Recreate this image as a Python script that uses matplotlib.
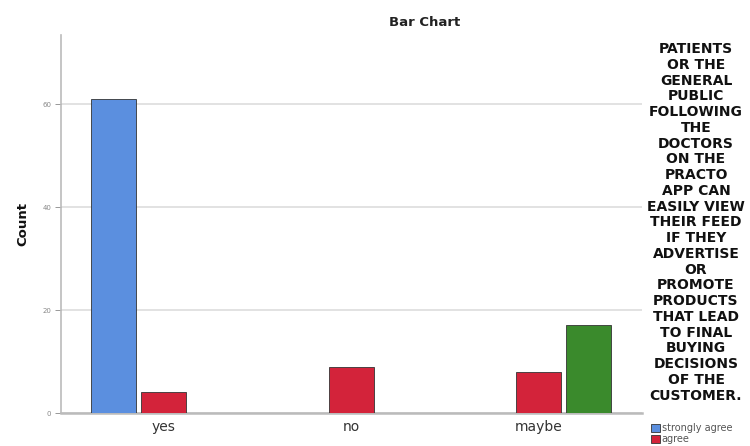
import matplotlib
matplotlib.use('Agg')
import matplotlib.pyplot as plt
import numpy as np

plt.rcParams['font.family'] = ['DejaVu Sans']

categories = ['yes', 'no', 'maybe']
responses = ['strongly agree', 'agree', 'neutral']
counts = {
    'strongly agree': [61, 0, 0],
    'agree': [4, 9, 8],
    'neutral': [0, 0, 17],
}
colours = ['#5b8fdf', '#d3233a', '#3a8a2c']
legend_title = ('PATIENTS\nOR THE\nGENERAL\nPUBLIC\nFOLLOWING\nTHE\nDOCTORS\nON THE\n'
                'PRACTO\nAPP CAN\nEASILY VIEW\nTHEIR FEED\nIF THEY\nADVERTISE\nOR\n'
                'PROMOTE\nPRODUCTS\nTHAT LEAD\nTO FINAL\nBUYING\nDECISIONS\nOF THE\nCUSTOMER.')

fig = plt.figure(figsize=(7.5, 4.46), dpi=100)
ax = fig.add_axes([61/750, 1-413/446, (642-61)/750, (413-35)/446])

# clustered bars, one slot per response within each category
x = np.arange(len(categories))
slot = 0.266
width = 0.24
handles = []
for i, (resp, col) in enumerate(zip(responses, colours)):
    vals = np.array(counts[resp])
    pos = x + (i - 1) * slot
    keep = vals > 0
    b = ax.bar(pos[keep], vals[keep], width=width, color=col,
               edgecolor='#333333', linewidth=0.6, zorder=3)
    handles.append(b)

ax.set_xlim(-0.545, 2.55)
ax.set_ylim(0, 73.4)
ax.set_yticks([0, 20, 40, 60])
ax.set_xticks(x)
ax.set_xticklabels(categories, fontsize=10, color='#333333')
ax.tick_params(axis='x', length=0, pad=5)
ax.tick_params(axis='y', labelsize=5, colors='#888888', length=4, width=0.6, pad=3)
ax.yaxis.grid(True, color='#dddddd', linewidth=1.2, zorder=0)
for s in ['top', 'right']:
    ax.spines[s].set_visible(False)
ax.spines['left'].set_color('#bbbbbb')
ax.spines['left'].set_linewidth(1.2)
ax.spines['bottom'].set_color('#bbbbbb')
ax.spines['bottom'].set_linewidth(1.8)
ax.set_ylabel('Count', fontsize=9.5, fontweight='bold', labelpad=9, color='#111111')

fig.text(425/750, 1-23/446, 'Bar Chart', ha='center', va='center',
         fontsize=9.5, fontweight='bold', color='#222222')

fig.text(696/750, 1-42/446, legend_title, ha='center', va='top',
         fontsize=10, fontweight='bold', color='#111111', linespacing=1.16)

# only the first two entries fit below the legend title
fig.legend(handles[:2], responses[:2], loc='upper left',
           bbox_to_anchor=(651/750, 1-423/446), frameon=False,
           fontsize=7, handlelength=0.9, handleheight=0.9,
           handletextpad=0.2, labelspacing=0.1, borderaxespad=0,
           borderpad=0, labelcolor='#555555')

fig.savefig('out.png', dpi=100)
